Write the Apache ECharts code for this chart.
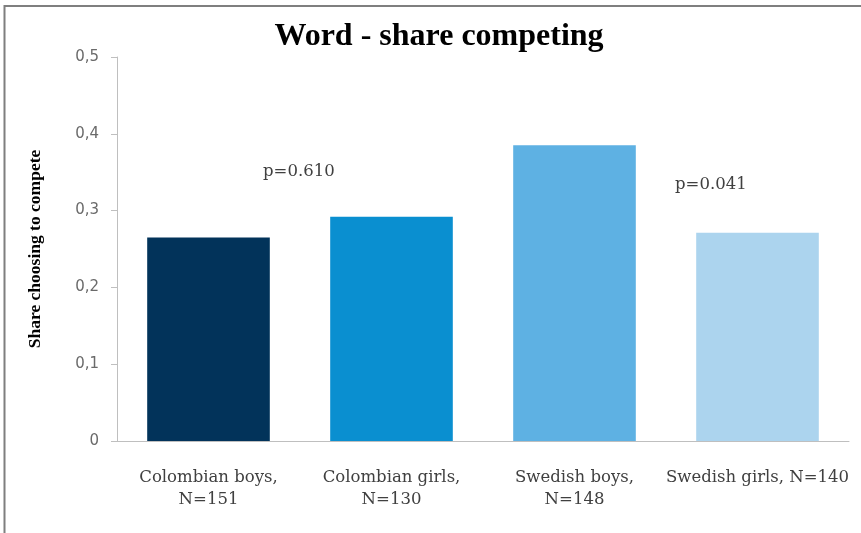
<!DOCTYPE html>
<html>
<head>
<meta charset="utf-8">
<script src="https://cdn.jsdelivr.net/npm/echarts@6/dist/echarts.min.js"></script>
<style>
  html, body { margin: 0; padding: 0; background: #ffffff; }
  #chart { width: 861px; height: 533px; }
</style>
</head>
<body>
<div id="chart"></div>
<script>
// Share of participants choosing to compete in the word task
const categories = ['Colombian boys,\nN=151', 'Colombian girls,\nN=130', 'Swedish boys,\nN=148', 'Swedish girls, N=140'];
const shares = [0.265, 0.292, 0.385, 0.271];
const barColors = ['#02335a', '#0a8fd0', '#5eb1e3', '#acd4ee'];
const yTicks = ['0', '0,1', '0,2', '0,3', '0,4', '0,5'];
const pValues = ['p=0.610', 'p=0.041'];

const chart = echarts.init(document.getElementById('chart'), null, { renderer: 'canvas' });

const labelFont = '"DejaVu Serif", "Liberation Serif", serif';

chart.setOption({
  animation: false,
  backgroundColor: '#ffffff',
  title: {
    text: 'Word - share competing',
    left: 434,
    top: 16,
    textAlign: 'center',
    textStyle: {
      fontFamily: '"Liberation Serif", "DejaVu Serif", serif',
      fontWeight: 'bold',
      fontSize: 32,
      color: '#000000'
    }
  },
  grid: {
    left: 117,
    right: 12,
    top: 57,
    bottom: 92,
    containLabel: false
  },
  xAxis: {
    type: 'category',
    data: categories,
    axisLine: { lineStyle: { color: '#bfbfbf', width: 1 } },
    axisTick: { show: false },
    axisLabel: {
      interval: 0,
      margin: 26,
      lineHeight: 22,
      fontFamily: labelFont,
      fontSize: 16.5,
      color: '#404040'
    }
  },
  yAxis: {
    type: 'value',
    min: 0,
    max: 0.5,
    interval: 0.1,
    name: 'Share choosing to compete',
    nameLocation: 'middle',
    nameGap: 73,
    nameRotate: 90,
    nameTextStyle: {
      fontFamily: '"Liberation Serif", "DejaVu Serif", serif',
      fontWeight: 'bold',
      fontSize: 17.5,
      color: '#000000'
    },
    axisLine: { show: true, lineStyle: { color: '#bfbfbf', width: 1 } },
    axisTick: { show: true, inside: false, length: 6, lineStyle: { color: '#bfbfbf' } },
    splitLine: { show: false },
    axisLabel: {
      margin: 18,
      fontFamily: '"DejaVu Sans", sans-serif',
      fontWeight: 'normal',
      fontSize: 15,
      color: '#6a6a6a',
      formatter: function (v) { return yTicks[Math.round(v * 10)]; }
    }
  },
  series: [{
    type: 'bar',
    data: shares.map((v, i) => ({ value: v, itemStyle: { color: barColors[i] } })),
    barCategoryGap: '33%',
    label: { show: false }
  }],
  graphic: [
    {
      type: 'rect',
      silent: true,
      shape: { x: 4.5, y: 6, width: 900, height: 600 },
      style: { fill: 'none', stroke: '#7f7f7f', lineWidth: 2 }
    },
    {
      type: 'text',
      left: 263,
      top: 163,
      style: { text: pValues[0], font: '16.5px ' + labelFont, fill: '#404040' }
    },
    {
      type: 'text',
      left: 675,
      top: 176,
      style: { text: pValues[1], font: '16.5px ' + labelFont, fill: '#404040' }
    }
  ]
});
</script>
</body>
</html>
